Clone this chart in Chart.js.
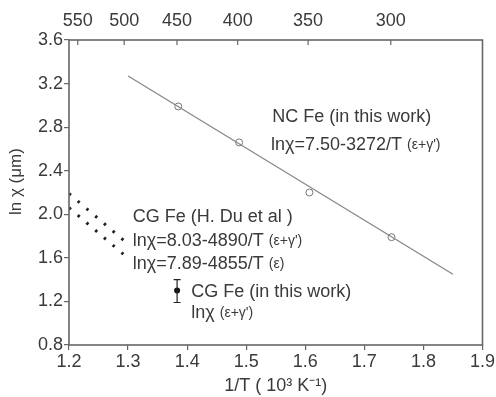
<!DOCTYPE html>
<html>
<head>
<meta charset="utf-8">
<script src="https://cdn.jsdelivr.net/npm/chart.js@4/dist/chart.umd.min.js"></script>
<style>
  html, body { margin: 0; padding: 0; background: #fff; }
  #wrap { width: 496px; height: 397px; }
</style>
</head>
<body>
<div id="wrap"><canvas id="grainChart" width="496" height="397"></canvas></div>
<script>
// axis ticks
const xTicks = [1.2, 1.3, 1.4, 1.5, 1.6, 1.7, 1.8, 1.9];
const yTicks = [0.8, 1.2, 1.6, 2.0, 2.4, 2.8, 3.2, 3.6];
const tempTicksC = [550, 500, 450, 400, 350, 300]; // top axis, deg C

// NC Fe (in this work) - measured points + fitted line
const ncX = [1.385, 1.488, 1.607, 1.746];
const ncY = [2.99, 2.66, 2.20, 1.79];
const ncFitX = [1.30, 1.85];
const ncFitY = [3.27, 1.45];

// CG Fe (H. Du et al) - two dotted lines
const duUpperX = [1.2, 1.295];
const duUpperY = [2.19, 1.75];
const duLowerX = [1.2, 1.295];
const duLowerY = [2.06, 1.62];

// CG Fe (in this work) - single point with error bar
const cgX = [1.383];
const cgY = [1.30];
const cgLow = [1.19];
const cgHigh = [1.40];

const FONT = '"Liberation Sans", Arial, sans-serif';
const TXT = '#3a3a3a';
const AX = '#666';

const toPts = (xs, ys) => xs.map((x, i) => ({ x: x, y: ys[i] }));

// text blocks anchored in data coordinates
const notes = [
  { x: 1.544, y: 2.894, parts: [['NC Fe (in this work)', 18]] },
  { x: 1.542, y: 2.637, parts: [['ln\u03c7=7.50-3272/T ', 18], ['(\u03b5+\u03b3\')', 14]] },
  { x: 1.308, y: 1.976, parts: [['CG Fe (H. Du et al )', 18]] },
  { x: 1.308, y: 1.756, parts: [['ln\u03c7=8.03-4890/T ', 18], ['(\u03b5+\u03b3\')', 14]] },
  { x: 1.308, y: 1.545, parts: [['ln\u03c7=7.89-4855/T ', 18], ['(\u03b5)', 14]] },
  { x: 1.407, y: 1.288, parts: [['CG Fe (in this work)', 18]] },
  { x: 1.407, y: 1.095, parts: [['ln\u03c7 ', 18], ['(\u03b5+\u03b3\')', 14]] }
];

const extras = {
  id: 'extras',
  afterDatasetsDraw(chart) {
    const { ctx, chartArea: a, scales } = chart;
    const xs = scales.x, ys = scales.y, top = scales.x2;
    ctx.save();

    // frame
    ctx.strokeStyle = AX;
    ctx.lineWidth = 1.6;
    ctx.strokeRect(a.left, a.top, a.right - a.left, a.bottom - a.top);

    // top axis ticks point inward
    ctx.lineWidth = 1.2;
    top.ticks.forEach(t => {
      const px = top.getPixelForValue(t.value);
      ctx.beginPath();
      ctx.moveTo(px, a.top);
      ctx.lineTo(px, a.top + 5);
      ctx.stroke();
    });

    // error bar
    ctx.strokeStyle = '#222';
    ctx.lineWidth = 1.2;
    cgX.forEach((x, i) => {
      const px = xs.getPixelForValue(x);
      const lo = ys.getPixelForValue(cgLow[i]);
      const hi = ys.getPixelForValue(cgHigh[i]);
      ctx.beginPath();
      ctx.moveTo(px, lo); ctx.lineTo(px, hi);
      ctx.moveTo(px - 3.5, lo); ctx.lineTo(px + 3.5, lo);
      ctx.moveTo(px - 3.5, hi); ctx.lineTo(px + 3.5, hi);
      ctx.stroke();
    });

    // annotations
    ctx.fillStyle = TXT;
    ctx.textBaseline = 'middle';
    notes.forEach(n => {
      let px = xs.getPixelForValue(n.x);
      const py = ys.getPixelForValue(n.y);
      n.parts.forEach(([s, size]) => {
        ctx.font = size + 'px ' + FONT;
        ctx.fillText(s, px, py);
        px += ctx.measureText(s).width;
      });
    });

    // y axis title (sits a bit above the plot centre in the original)
    ctx.translate(16, ys.getPixelForValue(2.3));
    ctx.rotate(-Math.PI / 2);
    ctx.textAlign = 'center';
    ctx.font = '17px ' + FONT;
    ctx.fillText('ln \u03c7 (\u03bcm)', 0, 0);
    ctx.restore();
  }
};

new Chart(document.getElementById('grainChart'), {
  type: 'scatter',
  data: {
    datasets: [
      {
        data: toPts(ncFitX, ncFitY),
        showLine: true,
        borderColor: '#888',
        borderWidth: 1.3,
        pointRadius: 0
      },
      {
        data: toPts(ncX, ncY),
        showLine: false,
        pointRadius: 3.5,
        pointBackgroundColor: '#fff',
        pointBorderColor: '#777',
        pointBorderWidth: 1
      },
      {
        data: toPts(duUpperX, duUpperY),
        showLine: true,
        borderColor: '#222',
        borderWidth: 3,
        borderDash: [2.5, 9],
        pointRadius: 0
      },
      {
        data: toPts(duLowerX, duLowerY),
        showLine: true,
        borderColor: '#222',
        borderWidth: 3,
        borderDash: [2.5, 9],
        pointRadius: 0
      },
      {
        data: toPts(cgX, cgY),
        showLine: false,
        pointRadius: 3,
        pointBackgroundColor: '#111',
        pointBorderColor: '#111',
        pointBorderWidth: 0
      }
    ]
  },
  options: {
    responsive: false,
    devicePixelRatio: 1,
    animation: false,
    layout: { padding: { left: 0, right: 13, top: 0, bottom: 0 } },
    plugins: { legend: { display: false }, tooltip: { enabled: false } },
    scales: {
      x: {
        type: 'linear',
        position: 'bottom',
        min: 1.2,
        max: 1.9,
        afterBuildTicks: s => { s.ticks = xTicks.map(v => ({ value: v })); },
        afterFit: s => { s.height = 52; },
        border: { display: false },
        grid: { drawOnChartArea: false, drawTicks: true, tickLength: 5, color: AX, lineWidth: 1.2 },
        ticks: { color: TXT, font: { family: FONT, size: 18 }, padding: 1, maxRotation: 0,
                 callback: v => v.toFixed(1) },
        title: { display: true, text: '1/T ( 10\u00b3 K\u207b\u00b9)', color: TXT,
                 font: { family: FONT, size: 18 }, padding: { top: 0, bottom: 0 } }
      },
      x2: {
        type: 'linear',
        position: 'top',
        min: 1.2,
        max: 1.9,
        afterBuildTicks: s => { s.ticks = tempTicksC.map(t => ({ value: 1000 / (t + 273.15) })); },
        afterFit: s => { s.height = 40; },
        border: { display: false },
        grid: { display: false, drawTicks: false },
        ticks: { color: TXT, font: { family: FONT, size: 18 }, padding: 8, maxRotation: 0,
                 callback: v => String(Math.round(1000 / v - 273.15)) }
      },
      y: {
        type: 'linear',
        position: 'left',
        min: 0.8,
        max: 3.6,
        afterBuildTicks: s => { s.ticks = yTicks.map(v => ({ value: v })); },
        afterFit: s => { s.width = 69; },
        border: { display: false },
        grid: { drawOnChartArea: false, drawTicks: true, tickLength: 5, color: AX, lineWidth: 1.2 },
        ticks: { color: TXT, font: { family: FONT, size: 18 }, padding: 1,
                 callback: v => v.toFixed(1) }
      }
    }
  },
  plugins: [extras]
});
</script>
</body>
</html>
